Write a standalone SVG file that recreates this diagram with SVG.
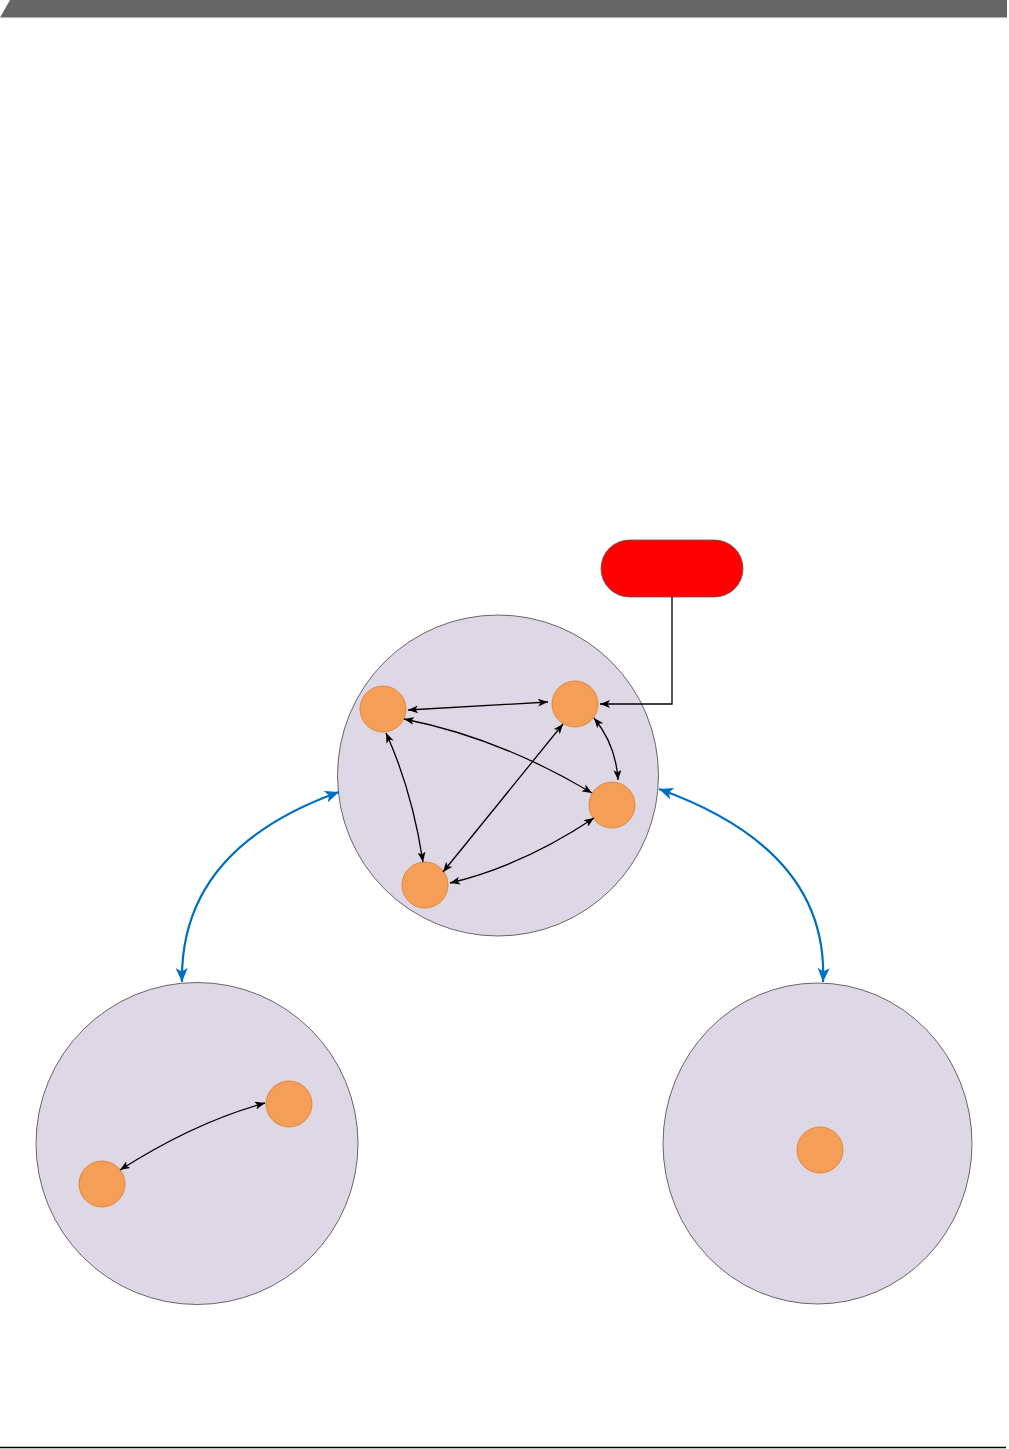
<svg xmlns="http://www.w3.org/2000/svg" width="1009" height="1449" viewBox="0 0 1009 1449">
<style>
.big{fill:#DED8E6;stroke:#444;stroke-width:0.8}
.dot{fill:#F49E58;stroke:#E0883A;stroke-width:1}
.blk{fill:none;stroke:#000;stroke-width:1.3}
.blu{fill:none;stroke:#0070C0;stroke-width:2.2}
</style>
<defs>
<marker id="ab" viewBox="0 0 10 8" refX="10" refY="4" markerWidth="10" markerHeight="8" markerUnits="userSpaceOnUse" orient="auto-start-reverse"><path d="M0,0 L10,4 L0,8 L2.5,4 Z" fill="#000"/></marker>
<marker id="au" viewBox="0 0 14 12" refX="14" refY="6" markerWidth="14" markerHeight="12" markerUnits="userSpaceOnUse" orient="auto-start-reverse"><path d="M0,0 L14,6 L0,12 L3.5,6 Z" fill="#0070C0"/></marker>
</defs>
<rect width="1009" height="1449" fill="#fff"/>
<polygon points="10,0 1007,0 1007,17.5 0,17.5" fill="#666"/>
<line x1="0" y1="1447.5" x2="1006" y2="1447.5" stroke="#000" stroke-width="1.5"/>
<g id="cluster-top"><circle class="big" cx="498" cy="775.5" r="160.5"/></g>
<g id="cluster-left"><circle class="big" cx="197" cy="1143.5" r="161"/></g>
<g id="cluster-right"><ellipse class="big" cx="817.5" cy="1143.5" rx="154.5" ry="160.5"/></g>
<g id="pill"><rect x="601" y="540" width="142" height="57" rx="28.5" fill="#FF0000" stroke="#555" stroke-width="0.8"/></g>
<g id="n-a"><circle class="dot" cx="383" cy="709" r="23"/></g>
<g id="n-b"><circle class="dot" cx="575" cy="704" r="23"/></g>
<g id="n-c"><circle class="dot" cx="612" cy="805" r="23"/></g>
<g id="n-d"><circle class="dot" cx="425" cy="885" r="23"/></g>
<g id="n-e"><circle class="dot" cx="289" cy="1104" r="23"/></g>
<g id="n-f"><circle class="dot" cx="102" cy="1184" r="23"/></g>
<g id="n-g"><circle class="dot" cx="820" cy="1150" r="23"/></g>
<g id="connectors">
<path class="blk" d="M408,710 L548,702" marker-start="url(#ab)" marker-end="url(#ab)"/>
<path class="blk" d="M672,597 L672,704 L600,704" marker-end="url(#ab)"/>
<path class="blk" d="M404,719 Q500,738 592,793" marker-start="url(#ab)" marker-end="url(#ab)"/>
<path class="blk" d="M386,733 Q412,790 423,862" marker-start="url(#ab)" marker-end="url(#ab)"/>
<path class="blk" d="M563,724 L443,872" marker-start="url(#ab)" marker-end="url(#ab)"/>
<path class="blk" d="M594,718 Q616,745 618,780" marker-start="url(#ab)" marker-end="url(#ab)"/>
<path class="blk" d="M450,883 Q522,866 594,818" marker-start="url(#ab)" marker-end="url(#ab)"/>
<path class="blk" d="M120,1170 Q195,1122 265,1103" marker-start="url(#ab)" marker-end="url(#ab)"/>
<path class="blu" d="M182,982 Q179.5,849 339,792" marker-start="url(#au)" marker-end="url(#au)"/>
<path class="blu" d="M659,789 Q829,850 823,982" marker-start="url(#au)" marker-end="url(#au)"/>
</g>
</svg>
